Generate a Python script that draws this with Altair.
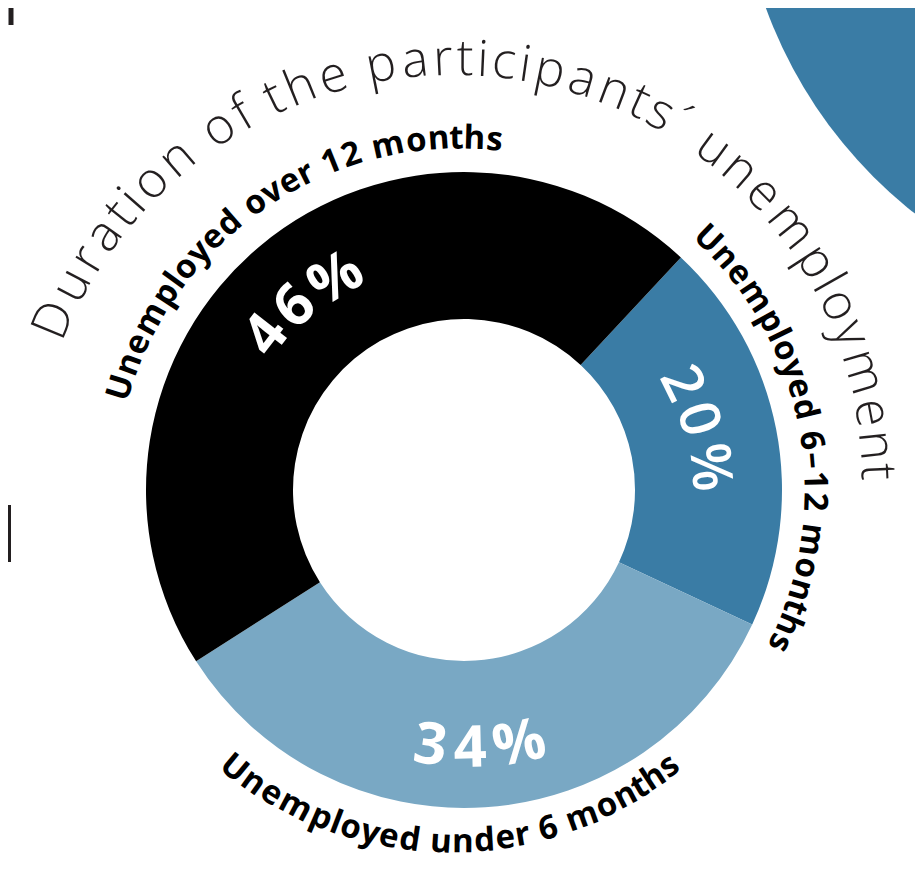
import math
import altair as alt
import pandas as pd

# ---------------- data ----------------
categories = ["Unemployed 6–12 months", "Unemployed under 6 months", "Unemployed over 12 months"]
shares = [20, 34, 46]
seg_colors = ["#3a7ca5", "#79a8c4", "#000000"]
pct_labels = ["20%", "34%", "46%"]
title_text = "Duration of the participants´ unemployment"

# ---------------- layout ----------------
CX, CY = 456, 482          # donut centre inside the view
R_OUT, R_IN = 318, 171
START_DEG = 43              # where the first slice starts (clockwise from 12 o'clock)

# approximate advance widths (em) for spacing characters along an arc
WID = {' ': 0.26, 'a': 0.56, 'b': 0.61, 'c': 0.48, 'd': 0.61, 'e': 0.56, 'f': 0.34,
       'g': 0.55, 'h': 0.61, 'i': 0.26, 'j': 0.26, 'k': 0.52, 'l': 0.26, 'm': 0.93,
       'n': 0.61, 'o': 0.60, 'p': 0.61, 'r': 0.41, 's': 0.48, 't': 0.35, 'u': 0.61,
       'v': 0.50, 'w': 0.78, 'y': 0.50, 'D': 0.71, 'U': 0.70, '´': 0.30, '’': 0.22,
       '–': 0.50, '%': 0.84}


def arc_text(text, a0, a1, r0, r1, inward):
    ws = [WID.get(c, 0.57) for c in text]
    centers, acc = [], 0.0
    for w in ws:
        centers.append(acc + w / 2)
        acc += w
    first, last = centers[0], centers[-1]
    rows = []
    for ch, pos in zip(text, centers):
        if ch == ' ':
            continue
        f = (pos - first) / (last - first)
        th = a0 + (a1 - a0) * f
        r = r0 + (r1 - r0) * f
        rot = th - 180 if inward else th
        rows.append({"ch": ch, "theta": th % 360, "r": r, "rot": rot % 360})
    return rows


def text_layer(rows, **mark):
    return alt.Chart(pd.DataFrame(rows)).mark_text(align="center", **mark).encode(
        theta=alt.Theta("theta:Q", stack=None,
                        scale=alt.Scale(domain=[0, 360], range=[0, 2 * math.pi])),
        radius=alt.Radius("r:Q", scale=None),
        angle=alt.Angle("rot:Q", scale=None),
        text=alt.Text("ch:N"),
        x=alt.value(CX), y=alt.value(CY),
    )


# ---------------- donut ----------------
df = pd.DataFrame({"category": categories, "share": shares, "idx": range(len(shares))})
start = math.radians(START_DEG)
donut = alt.Chart(df).mark_arc(radius=R_OUT, radius2=R_IN).encode(
    theta=alt.Theta("share:Q", stack=True,
                    scale=alt.Scale(domain=[0, 100], range=[start, start + 2 * math.pi])),
    color=alt.Color("category:N", scale=alt.Scale(domain=categories, range=seg_colors), legend=None),
    order=alt.Order("idx:Q"),
    x=alt.value(CX), y=alt.value(CY),
)

# decorative big circle top-right
blob = alt.Chart(alt.Data(values=[{"k": 1}])).mark_arc(
    theta=0, theta2=2 * math.pi, radius=462, color="#3a7ca5"
).encode(x=alt.value(1192), y=alt.value(-158))

# decorative small bars on the left edge
bar1 = alt.Chart(alt.Data(values=[{"k": 1}])).mark_rule(strokeWidth=5, color="#231f20").encode(
    x=alt.value(3), y=alt.value(0), y2=alt.value(17))
bar2 = alt.Chart(alt.Data(values=[{"k": 1}])).mark_rule(strokeWidth=4, color="#231f20").encode(
    x=alt.value(1), y=alt.value(497), y2=alt.value(554))

# ---------------- text ----------------
title_rows = arc_text(title_text, 292.5, 447.5, 428, 398, False)
label_rows = (arc_text(categories[2], 286.6, 365.0, 348, 341, False)
              + arc_text(categories[0], 44.2, 115.8, 340, 341, False)
              + arc_text(categories[1], 219.6, 143.4, 371, 354, True))
pct_big_rows = (arc_text(pct_labels[2], 308.0, 328.8, 250, 246, False)
                + arc_text(pct_labels[1], 187.5, 167.7, 259, 261, True))
pct_small_rows = arc_text(pct_labels[0], 63.9, 84.7, 242, 246, False)

title = text_layer(title_rows, font="Open Sans", fontWeight=300, fontSize=50,
                   color="#231f20", baseline="alphabetic")
labels = text_layer(label_rows, font="Open Sans", fontWeight="bold", fontSize=33,
                    color="#000000", baseline="alphabetic")
pcts_big = text_layer(pct_big_rows, font="Open Sans", fontWeight="bold", fontSize=58,
                      color="#ffffff", baseline="middle")
pcts_small = text_layer(pct_small_rows, font="Open Sans", fontWeight=600, fontSize=56,
                        color="#ffffff", baseline="middle")

chart = alt.layer(blob, bar1, bar2, donut, title, labels, pcts_big, pcts_small).resolve_scale(
    theta="independent"
).properties(
    width=907, height=857, padding=0, autosize="none", background="white"
).configure_view(stroke=None)

chart.save("out.html", embed_options={"renderer": "svg", "actions": False})
